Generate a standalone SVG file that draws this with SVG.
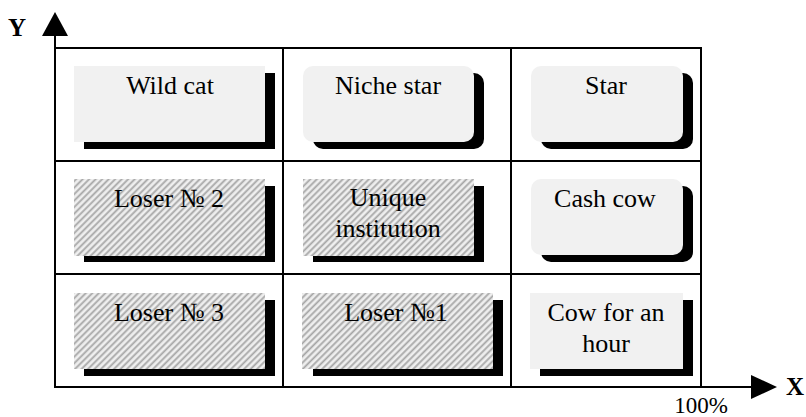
<svg xmlns="http://www.w3.org/2000/svg" width="806" height="417" viewBox="0 0 806 417">
  <style>
    .grid { stroke: #000; stroke-width: 2; fill: none; }
    .shadow { fill: #000; }
    .plain { fill: #f1f1f1; }
    .hatch { fill: url(#hatch); }
    text { font-family: "Times New Roman", "Liberation Serif", Tinos, "DejaVu Serif", "Noto Serif", serif; fill: #000; }
    .lbl { font-size: 26px; text-anchor: middle; }
    .axis { font-weight: bold; font-size: 25px; }
    .tick { font-size: 23px; text-anchor: middle; }
  </style>
  <defs>
    <pattern id="hatch" width="4.6" height="4.6" patternUnits="userSpaceOnUse" patternTransform="rotate(45)">
      <rect width="4.6" height="4.6" fill="#efefef"/>
      <line x1="1.2" y1="0" x2="1.2" y2="4.6" stroke="#a6a6a6" stroke-width="1.8"/>
    </pattern>
  </defs>

  <!-- axes and grid -->
  <g id="connectors">
    <rect class="grid" x="55" y="48" width="646" height="339"/>
    <line class="grid" x1="283" y1="48" x2="283" y2="387"/>
    <line class="grid" x1="511" y1="48" x2="511" y2="387"/>
    <line class="grid" x1="55" y1="161" x2="701" y2="161"/>
    <line class="grid" x1="55" y1="274" x2="701" y2="274"/>
    <!-- Y axis -->
    <line class="grid" x1="55" y1="34" x2="55" y2="48"/>
    <polygon points="55,12 68,36 42,36" fill="#000"/>
    <!-- X axis -->
    <line class="grid" x1="701" y1="387" x2="753" y2="387"/>
    <polygon points="777,387 751,375 751,399" fill="#000"/>
  </g>

  <text class="axis" x="8" y="36">Y</text>
  <text class="axis" x="786" y="395">X</text>
  <text class="tick" x="701" y="413">100%</text>

  <g id="wild-cat">
    <rect class="shadow" x="84" y="73" width="191" height="76"/>
    <rect class="plain" x="74" y="66" width="191" height="76"/>
    <text class="lbl" x="170" y="94">Wild cat</text>
  </g>
  <g id="niche-star">
    <rect class="shadow" x="313" y="73" width="171" height="76" rx="10"/>
    <rect class="plain" x="303" y="66" width="171" height="76" rx="10"/>
    <text class="lbl" x="388" y="94">Niche star</text>
  </g>
  <g id="star">
    <rect class="shadow" x="541" y="73" width="152" height="76" rx="10"/>
    <rect class="plain" x="531" y="66" width="152" height="76" rx="10"/>
    <text class="lbl" x="606" y="94">Star</text>
  </g>

  <g id="loser-2">
    <rect class="shadow" x="84" y="186" width="191" height="76"/>
    <rect class="hatch" x="74" y="179" width="191" height="77"/>
    <text class="lbl" x="169" y="207">Loser № 2</text>
  </g>
  <g id="unique-institution">
    <rect class="shadow" x="313" y="186" width="171" height="76"/>
    <rect class="hatch" x="303" y="179" width="171" height="77"/>
    <text class="lbl" x="388" y="206">Unique</text>
    <text class="lbl" x="388" y="237">institution</text>
  </g>
  <g id="cash-cow">
    <rect class="shadow" x="541" y="186" width="152" height="76" rx="10"/>
    <rect class="plain" x="531" y="179" width="152" height="76" rx="10"/>
    <text class="lbl" x="605" y="207">Cash cow</text>
  </g>

  <g id="loser-3">
    <rect class="shadow" x="84" y="300" width="191" height="76"/>
    <rect class="hatch" x="74" y="293" width="191" height="76"/>
    <text class="lbl" x="169" y="321">Loser № 3</text>
  </g>
  <g id="loser-1">
    <rect class="shadow" x="313" y="300" width="190" height="76"/>
    <rect class="hatch" x="302" y="293" width="191" height="76"/>
    <text class="lbl" x="396" y="321">Loser №1</text>
  </g>
  <g id="cow-for-an-hour">
    <rect class="shadow" x="540" y="300" width="153" height="76"/>
    <rect class="plain" x="530" y="293" width="153" height="76"/>
    <text class="lbl" x="606" y="321">Cow for an</text>
    <text class="lbl" x="606" y="352">hour</text>
  </g>
</svg>
